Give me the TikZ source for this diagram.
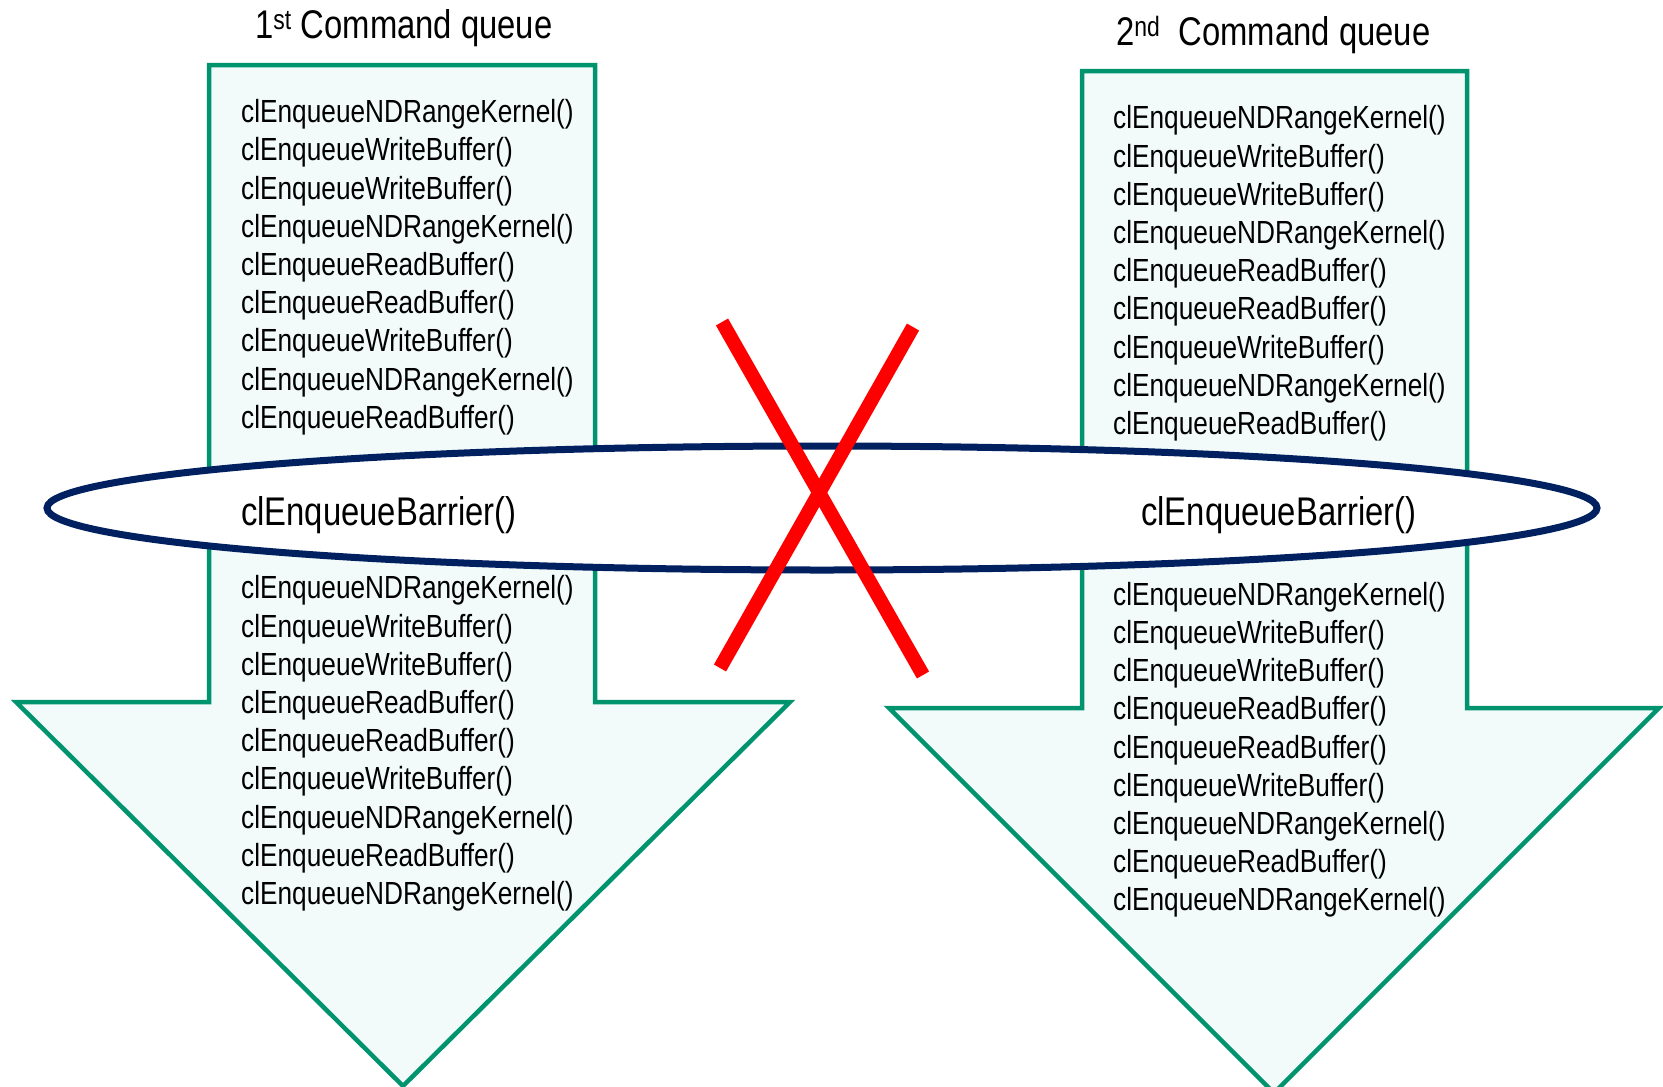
\documentclass[tikz,border=0pt]{standalone}
\usepackage{fontspec}
\setmainfont{Liberation Sans}
\newfontfamily\narrowfont[FakeStretch=0.82]{Liberation Sans}
\definecolor{qgreen}{RGB}{0,148,110}
\definecolor{qfill}{RGB}{242,251,250}
\definecolor{qnavy}{RGB}{0,32,96}
\definecolor{qred}{RGB}{255,0,0}
\tikzset{
  queuearrow/.style={draw=qgreen, fill=qfill, line width=4.5pt, line join=miter},
  cmdtext/.style={anchor=west, inner sep=0pt, font=\narrowfont\fontsize{32}{38}\selectfont, text=black},
  bigtext/.style={inner sep=0pt, font=\narrowfont\fontsize{40}{48}\selectfont, text=black},
  barrierring/.style={draw=qnavy, fill=white, line width=7pt},
  crossline/.style={draw=qred, line width=14pt},
}
\begin{document}
\begin{tikzpicture}[x=1pt,y=-1pt]
\useasboundingbox (0,0) rectangle (1663,1087);
% arrows
\draw[queuearrow] (209,65) -- (595,65) -- (595,702) -- (790,702) -- (403,1086) -- (16,702) -- (209,702) -- cycle;
\draw[queuearrow] (1082,71) -- (1467,71) -- (1467,708) -- (1659,708) -- (1274,1093) -- (889,708) -- (1082,708) -- cycle;
% titles
\node[bigtext, anchor=west] (t1) at (255,28) {1\textsuperscript{st} Command queue};
\node[bigtext, anchor=west] (t2) at (1116,35) {2\textsuperscript{nd}\ \ Command queue};
% upper lists
\foreach \txt [count=\i] in {NDRangeKernel,WriteBuffer,WriteBuffer,NDRangeKernel,ReadBuffer,ReadBuffer,WriteBuffer,NDRangeKernel,ReadBuffer}{
  \node[cmdtext] (ua\i) at (241,{114.4+(\i-1)*38.2}) {clEnqueue\txt()};
  \node[cmdtext] (ub\i) at (1113,{120.7+(\i-1)*38.2}) {clEnqueue\txt()};
}
% lower lists
\foreach \txt [count=\i] in {NDRangeKernel,WriteBuffer,WriteBuffer,ReadBuffer,ReadBuffer,WriteBuffer,NDRangeKernel,ReadBuffer,NDRangeKernel}{
  \node[cmdtext] (la\i) at (241,{590.6+(\i-1)*38.2}) {clEnqueue\txt()};
  \node[cmdtext] (lb\i) at (1113,{597+(\i-1)*38.2}) {clEnqueue\txt()};
}
% barrier ellipse
\draw[barrierring] (822,508) ellipse [x radius=775, y radius=62];
\node[bigtext, anchor=west] (b1) at (241,515) {clEnqueueBarrier()};
\node[bigtext, anchor=west] (b2) at (1141,515) {clEnqueueBarrier()};
% red cross
\draw[crossline] (722,322) -- (923,675);
\draw[crossline] (913,327) -- (720,668);
\end{tikzpicture}
\end{document}
